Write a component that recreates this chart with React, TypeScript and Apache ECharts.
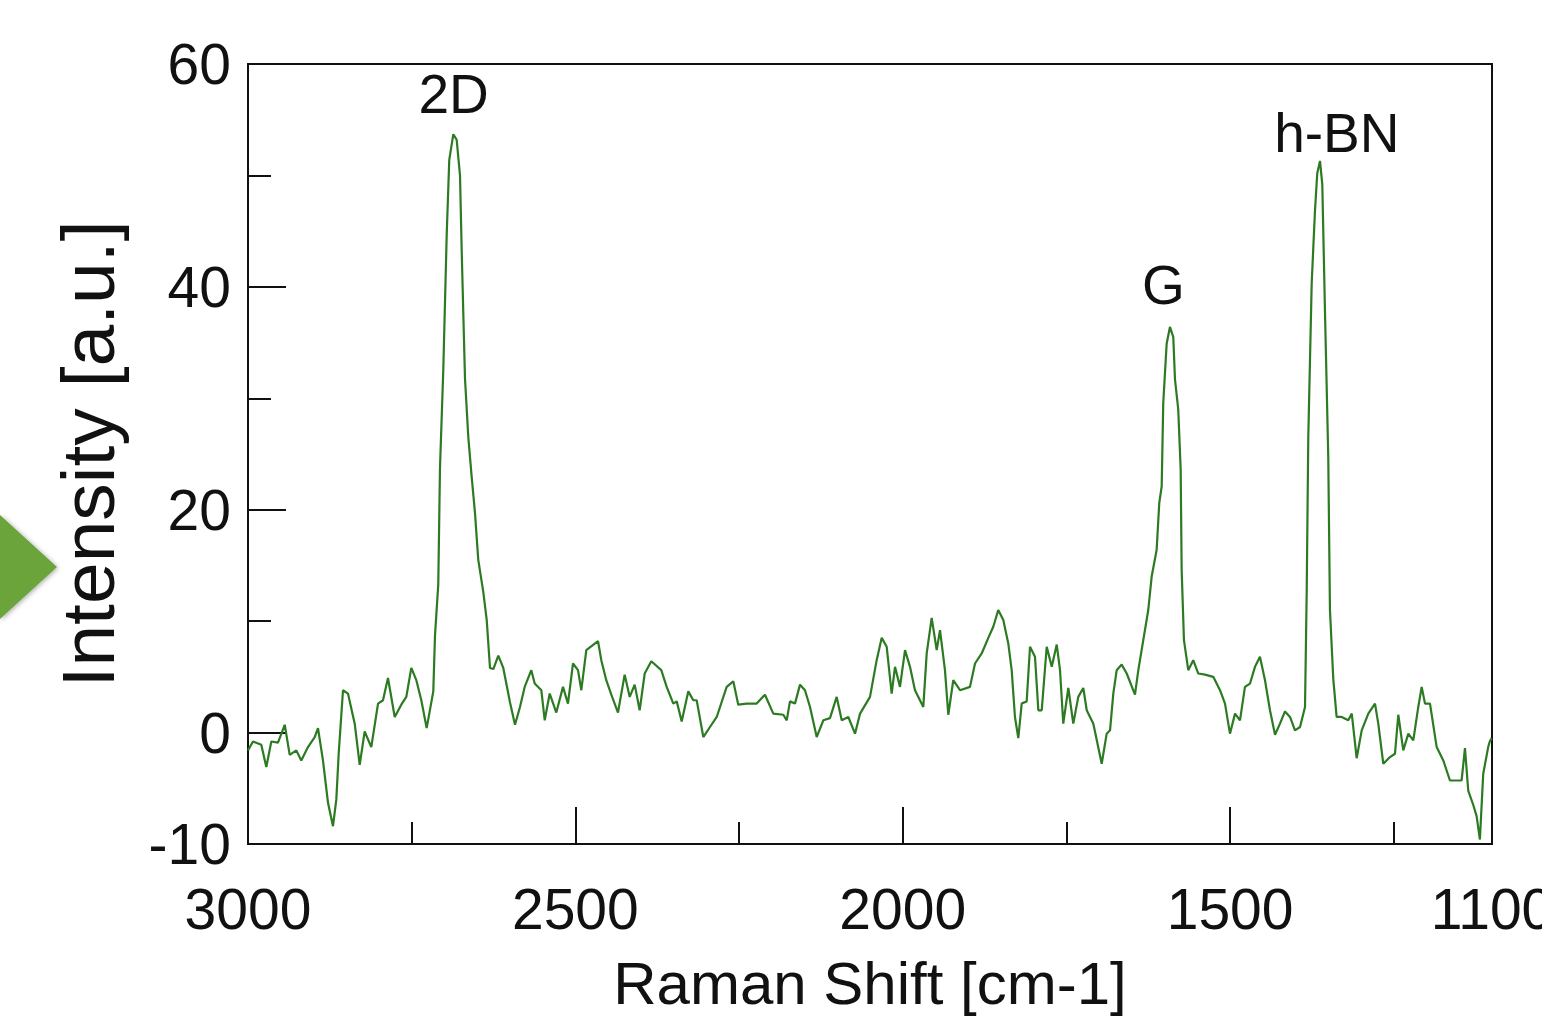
import React, { useEffect, useRef } from "react";
import * as echarts from "echarts";

const ramanShift = [
  3000.0, 2992.4, 2979.7, 2972.0, 2964.4, 2954.2, 2943.9, 2936.3, 2926.2, 2918.6,
  2908.4, 2898.1, 2893.1, 2885.5, 2877.8, 2870.2, 2865.1, 2861.5, 2854.9, 2847.3,
  2837.0, 2829.4, 2821.8, 2811.7, 2801.4, 2793.8, 2786.2, 2775.9, 2765.9, 2758.2,
  2750.6, 2742.9, 2735.3, 2727.1, 2717.0, 2714.4, 2709.4, 2706.8, 2701.7, 2696.5,
  2692.6, 2686.4, 2681.3, 2676.2, 2673.6, 2668.6, 2663.5, 2658.3, 2653.3, 2648.3,
  2640.6, 2635.4, 2630.4, 2625.3, 2617.7, 2610.1, 2599.8, 2592.2, 2584.6, 2577.4,
  2567.3, 2562.1, 2552.0, 2546.8, 2539.2, 2529.1, 2518.9, 2511.3, 2503.6, 2496.0,
  2490.9, 2483.3, 2465.4, 2460.4, 2452.8, 2445.1, 2434.9, 2424.7, 2417.0, 2409.4,
  2401.8, 2394.1, 2384.0, 2368.8, 2360.5, 2350.4, 2345.2, 2337.6, 2327.5, 2319.9,
  2314.7, 2304.6, 2294.4, 2284.1, 2268.9, 2258.8, 2251.2, 2238.3, 2223.1, 2210.4,
  2197.7, 2182.4, 2177.2, 2172.2, 2164.6, 2156.9, 2149.3, 2141.6, 2131.4, 2121.3,
  2111.1, 2100.9, 2093.2, 2083.1, 2072.9, 2065.2, 2050.0, 2039.8, 2032.1, 2024.5,
  2016.9, 2011.8, 2004.2, 1996.5, 1988.9, 1981.3, 1968.6, 1963.4, 1955.8, 1948.1,
  1943.1, 1935.5, 1930.4, 1922.8, 1912.5, 1897.3, 1889.6, 1879.4, 1869.3, 1861.7,
  1854.1, 1846.4, 1838.8, 1833.6, 1828.6, 1823.5, 1818.3, 1810.7, 1805.6, 1798.0,
  1792.9, 1787.7, 1780.1, 1772.4, 1764.8, 1759.8, 1754.8, 1747.1, 1739.5, 1731.9,
  1724.2, 1719.0, 1708.9, 1696.1, 1688.5, 1683.4, 1678.4, 1673.2, 1665.6, 1657.9,
  1645.3, 1640.2, 1632.6, 1625.0, 1619.8, 1612.2, 1608.2, 1604.5, 1602.1, 1596.9,
  1591.9, 1586.8, 1584.2, 1579.2, 1575.5, 1574.0, 1570.5, 1563.9, 1556.3, 1548.6,
  1538.4, 1525.7, 1515.4, 1507.8, 1500.2, 1492.5, 1484.9, 1477.3, 1469.6, 1462.0,
  1454.4, 1446.7, 1439.1, 1431.4, 1423.8, 1416.2, 1408.5, 1400.9, 1393.2, 1385.6,
  1383.0, 1380.6, 1375.4, 1370.4, 1366.9, 1362.7, 1359.2, 1355.1, 1350.1, 1347.5,
  1342.4, 1337.3, 1329.6, 1319.5, 1314.2, 1306.7, 1299.0, 1288.9, 1278.7, 1273.7,
  1266.0, 1255.8, 1248.2, 1243.1, 1235.5, 1227.8, 1220.2, 1212.6, 1207.4, 1202.3,
  1194.7, 1184.5, 1174.4, 1164.2, 1154.0, 1146.4, 1141.3, 1136.3, 1128.6, 1123.5,
  1118.5, 1113.4, 1105.8, 1103.4, 1100.5,
];

const intensity = [
  -1.6, -0.8, -1.1, -3.1, -0.8, -0.9, 0.7, -2.0, -1.6, -2.5,
  -1.3, -0.4, 0.4, -2.5, -6.3, -8.4, -6.0, -1.9, 3.8, 3.5,
  0.8, -2.9, 0.1, -1.3, 2.6, 2.9, 4.9, 1.4, 2.5, 3.2,
  5.8, 4.7, 2.9, 0.4, 3.7, 8.7, 13.3, 23.7, 32.6, 44.7,
  51.4, 53.7, 53.2, 50.0, 43.2, 31.8, 26.5, 22.9, 19.7, 15.5,
  12.6, 10.1, 5.8, 5.7, 6.9, 5.8, 2.7, 0.7, 2.3, 4.1,
  5.6, 4.4, 3.8, 1.1, 3.5, 1.8, 4.1, 2.6, 6.2, 5.6,
  3.8, 7.4, 8.2, 6.5, 4.7, 3.4, 1.8, 5.2, 3.2, 4.3,
  2.0, 5.3, 6.4, 5.6, 4.1, 2.6, 2.8, 1.0, 3.7, 2.9,
  2.9, -0.4, 0.5, 1.4, 4.1, 4.6, 2.5, 2.6, 2.6, 3.4,
  1.7, 1.6, 1.1, 2.8, 2.6, 4.3, 3.8, 2.3, -0.4, 1.1,
  1.3, 3.2, 1.1, 1.4, -0.1, 1.7, 3.2, 6.5, 8.5, 7.7,
  3.5, 5.9, 4.1, 7.4, 5.9, 3.8, 2.3, 7.1, 10.3, 7.4,
  9.2, 5.6, 1.6, 4.7, 3.8, 4.1, 6.2, 7.1, 8.5, 9.5,
  11.0, 10.1, 8.0, 5.6, 1.4, -0.5, 2.6, 2.8, 7.7, 6.8,
  2.0, 2.0, 7.7, 5.9, 7.9, 5.6, 0.8, 4.0, 0.8, 3.2,
  4.0, 2.0, 0.8, -2.8, -0.1, 0.2, 3.5, 5.6, 6.1, 5.3,
  3.4, 5.6, 8.3, 11.0, 14.0, 16.4, 20.6, 22.1, 29.6, 34.9,
  36.4, 35.5, 31.7, 29.0, 23.6, 14.6, 8.3, 5.6, 6.5, 5.3,
  5.2, 5.0, 3.8, 2.6, -0.1, 1.7, 1.1, 4.1, 4.4, 5.9,
  6.8, 4.7, 2.0, -0.2, 0.8, 1.9, 1.4, 0.2, 0.5, 2.3,
  12.7, 26.5, 40.3, 46.8, 50.2, 51.3, 49.2, 37.8, 24.8, 11.0,
  4.8, 1.4, 1.4, 1.1, 1.7, -2.3, 0.2, 1.7, 2.6, 0.8,
  -2.8, -2.2, -1.9, 1.6, -1.6, -0.1, -0.7, 2.3, 4.1, 2.6,
  2.6, -1.3, -2.5, -4.3, -4.3, -4.3, -1.4, -5.2, -6.5, -7.5,
  -9.6, -3.7, -1.3, -0.8, -0.5,
];

const xLabelValues = [3000, 2500, 2000, 1500, 1100];
const xMajorTicks = [3000, 2500, 2000, 1500];
const xMinorTicks = [2750, 2250, 1750, 1250];
const yLabelValues = [-10, 0, 20, 40, 60];
const yMajorTicks = [0, 20, 40];
const yMinorTicks = [10, 30, 50];

const peakNames = ["2D", "G", "h-BN"];
const peakLabelShift = [2686, 1602, 1337];
const peakLabelIntensity = [57.3, 40.2, 53.8];

const FONT = "'Liberation Sans', Arial, Helvetica, sans-serif";
const INK = "#111111";

export default function App() {
  const ref = useRef<HTMLDivElement>(null);

  useEffect(() => {
    if (!ref.current) return;
    const chart = echarts.init(ref.current, null, { renderer: "svg" });
    const spectrum = ramanShift.map((x, i) => [x, intensity[i]]);

    const tickStyle = { color: INK, width: 2 };
    const plain = (v: number) => String(v);

    chart.setOption({
      animation: false,
      backgroundColor: "#ffffff",
      grid: {
        left: 248,
        right: 50,
        top: 64,
        bottom: 173,
        containLabel: false,
        outerBoundsMode: "none",
        show: true,
        borderColor: INK,
        borderWidth: 2,
        backgroundColor: "transparent",
      },
      xAxis: [
        {
          type: "value",
          min: 1100,
          max: 3000,
          inverse: true,
          position: "bottom",
          name: "Raman Shift [cm-1]",
          nameLocation: "middle",
          nameGap: 109,
          nameTextStyle: { fontSize: 60, color: INK, fontFamily: FONT },
          axisLine: { show: true, onZero: false, lineStyle: tickStyle },
          axisTick: {
            show: true,
            inside: true,
            length: 37,
            customValues: xMajorTicks,
            lineStyle: tickStyle,
          },
          axisLabel: {
            show: true,
            customValues: xLabelValues,
            formatter: plain,
            margin: 36,
            fontSize: 57,
            color: INK,
            fontFamily: FONT,
          },
          splitLine: { show: false },
        },
        {
          type: "value",
          min: 1100,
          max: 3000,
          inverse: true,
          position: "bottom",
          axisLine: { show: false, onZero: false },
          axisTick: {
            show: true,
            inside: true,
            length: 22,
            customValues: xMinorTicks,
            lineStyle: tickStyle,
          },
          axisLabel: { show: false },
          splitLine: { show: false },
        },
      ],
      yAxis: [
        {
          type: "value",
          min: -10,
          max: 60,
          position: "left",
          name: "Intensity [a.u.]",
          nameLocation: "middle",
          nameGap: 123,
          nameTextStyle: { fontSize: 75, color: INK, fontFamily: FONT },
          axisLine: { show: true, onZero: false, lineStyle: tickStyle },
          axisTick: {
            show: true,
            inside: true,
            length: 38,
            customValues: yMajorTicks,
            lineStyle: tickStyle,
          },
          axisLabel: {
            show: true,
            customValues: yLabelValues,
            formatter: plain,
            margin: 17,
            fontSize: 57,
            color: INK,
            fontFamily: FONT,
          },
          splitLine: { show: false },
        },
        {
          type: "value",
          min: -10,
          max: 60,
          position: "left",
          axisLine: { show: false, onZero: false },
          axisTick: {
            show: true,
            inside: true,
            length: 23,
            customValues: yMinorTicks,
            lineStyle: tickStyle,
          },
          axisLabel: { show: false },
          splitLine: { show: false },
        },
      ],
      series: [
        {
          type: "line",
          name: "Raman",
          xAxisIndex: 0,
          yAxisIndex: 0,
          data: spectrum,
          showSymbol: false,
          symbol: "none",
          lineStyle: { color: "#2c7a22", width: 2.2 },
          emphasis: { disabled: true },
          z: 3,
        },
      ],
    });

    const peakTexts = peakNames.map((n, i) => {
      const p = chart.convertToPixel({ xAxisIndex: 0, yAxisIndex: 0 }, [
        peakLabelShift[i],
        peakLabelIntensity[i],
      ]) as number[];
      return {
        type: "text",
        x: p[0],
        y: p[1],
        style: {
          text: n,
          fill: INK,
          font: `55px ${FONT}`,
          align: "center",
          verticalAlign: "middle",
        },
        z: 20,
      };
    });

    chart.setOption({
      graphic: [
        {
          type: "polygon",
          shape: {
            points: [
              [0, 515],
              [57, 567],
              [0, 619],
            ],
          },
          style: {
            fill: "#6aa43a",
            shadowBlur: 5,
            shadowColor: "rgba(0,0,0,0.35)",
            shadowOffsetX: 1,
            shadowOffsetY: 1,
          },
          z: 10,
        },
        ...peakTexts,
      ],
    });

    return () => {
      chart.dispose();
    };
  }, []);

  return (
    <div
      ref={ref}
      style={{
        position: "fixed",
        left: 0,
        top: 0,
        width: 1542,
        height: 1017,
        background: "#ffffff",
      }}
    />
  );
}
